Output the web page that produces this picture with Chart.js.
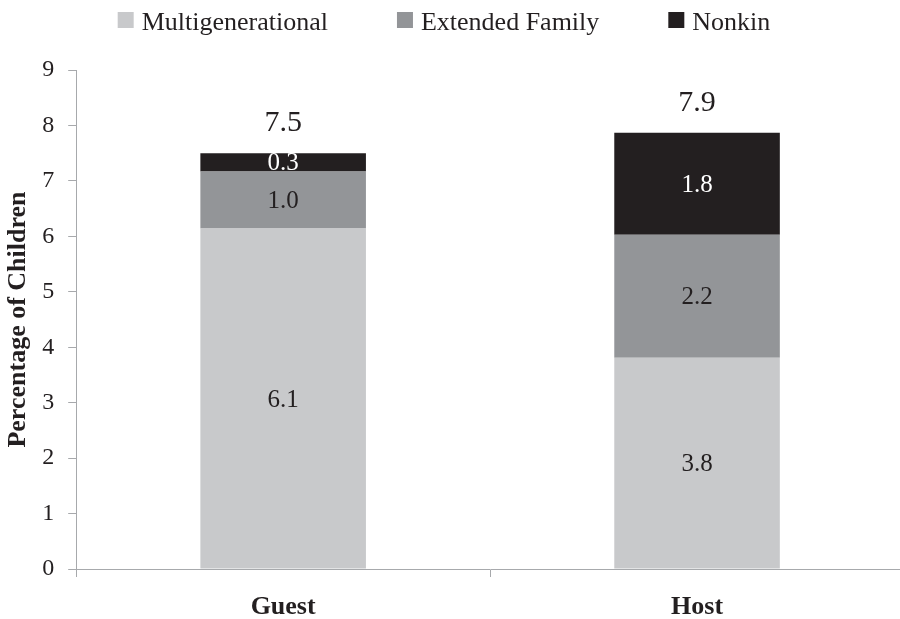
<!DOCTYPE html>
<html>
<head>
<meta charset="utf-8">
<script src="https://cdn.jsdelivr.net/npm/chart.js@4"></script>
<style>
  html, body { margin: 0; padding: 0; background: #fff; overflow: hidden; }
  #wrap { position: relative; width: 904px; height: 619px; }
</style>
</head>
<body>
<div id="wrap"><canvas id="c"></canvas></div>
<script>
// Household type of co-resident children, by role
const categories = ['Guest', 'Host'];
const seriesNames = ['Multigenerational', 'Extended Family', 'Nonkin'];
const multigenerational = [6.14, 3.81];
const extendedFamily = [1.03, 2.22];
const nonkin = [0.33, 1.84];
const yTicks = [0, 1, 2, 3, 4, 5, 6, 7, 8, 9];

const SERIF = '"Liberation Serif", "Times New Roman", serif';
const INK = '#231f20';
const AXIS = '#a7a9ac';

// Writes each segment's value inside it and the stack total above each bar
const stackLabels = {
  id: 'stackLabels',
  afterDatasetsDraw(chart) {
    const ctx = chart.ctx;
    ctx.save();
    ctx.textAlign = 'center';
    ctx.textBaseline = 'alphabetic';
    const totals = categories.map(() => 0);
    chart.data.datasets.forEach((ds, di) => {
      const meta = chart.getDatasetMeta(di);
      meta.data.forEach((bar, i) => {
        const v = ds.data[i];
        totals[i] += v;
        const mid = (bar.y + bar.base) / 2;
        ctx.font = '25px ' + SERIF;
        ctx.fillStyle = ds.labelColor;
        ctx.fillText(v.toFixed(1), bar.x, mid + 8);
      });
    });
    const topMeta = chart.getDatasetMeta(chart.data.datasets.length - 1);
    topMeta.data.forEach((bar, i) => {
      ctx.font = '30px ' + SERIF;
      ctx.fillStyle = INK;
      ctx.fillText(totals[i].toFixed(1), bar.x, bar.y - 22);
    });
    ctx.restore();
  }
};

// Single-row legend across the top: square swatch followed by the series name
const topLegend = {
  id: 'topLegend',
  afterDraw(chart) {
    const ctx = chart.ctx;
    const box = 16, gapText = 8, gapItem = 69, baseline = 30;
    ctx.save();
    ctx.font = '26px ' + SERIF;
    ctx.textBaseline = 'alphabetic';
    ctx.textAlign = 'left';
    const items = chart.data.datasets.map(ds => ({
      text: ds.label, color: ds.backgroundColor, w: ctx.measureText(ds.label).width
    }));
    const total = items.reduce((s, it) => s + box + gapText + it.w, 0) + gapItem * (items.length - 1);
    let x = chart.width / 2 - 8 - total / 2;
    items.forEach(it => {
      ctx.fillStyle = it.color;
      ctx.fillRect(x, baseline - 18, box, box);
      x += box + gapText;
      ctx.fillStyle = INK;
      ctx.fillText(it.text, x, baseline);
      x += it.w + gapItem;
    });
    ctx.restore();
  }
};

new Chart(document.getElementById('c'), {
  type: 'bar',
  data: {
    labels: categories,
    datasets: [
      { label: seriesNames[0], data: multigenerational, backgroundColor: '#c8c9cb', labelColor: INK },
      { label: seriesNames[1], data: extendedFamily, backgroundColor: '#939598', labelColor: INK },
      { label: seriesNames[2], data: nonkin, backgroundColor: INK, labelColor: '#ffffff' }
    ]
  },
  options: {
    responsive: true,
    maintainAspectRatio: false,
    animation: false,
    devicePixelRatio: 1,
    categoryPercentage: 1.0,
    barPercentage: 0.4,
    layout: { padding: { left: 3, right: 0, top: 70, bottom: -18 } },
    plugins: {
      legend: { display: false },
      tooltip: { enabled: false }
    },
    scales: {
      x: {
        stacked: true,
        grid: { display: true, drawOnChartArea: false, drawTicks: true, tickLength: 8, color: AXIS, offset: true },
        border: { display: true, color: AXIS, width: 1 },
        ticks: { font: { family: SERIF, size: 26, weight: 'bold', lineHeight: 1.0 }, color: INK, padding: 17 }
      },
      y: {
        stacked: true,
        min: 0,
        max: 9,
        afterBuildTicks(axis) { axis.ticks = yTicks.map(v => ({ value: v })); },
        grid: { display: true, drawOnChartArea: false, drawTicks: true, tickLength: 8, color: AXIS },
        border: { display: true, color: AXIS, width: 1 },
        ticks: { font: { family: SERIF, size: 24 }, color: INK, padding: 14 },
        title: { display: true, text: 'Percentage of Children', font: { family: SERIF, size: 26, weight: 'bold' }, color: INK, padding: { top: 0, bottom: -6 } }
      }
    }
  },
  plugins: [stackLabels, topLegend]
});
</script>
</body>
</html>
